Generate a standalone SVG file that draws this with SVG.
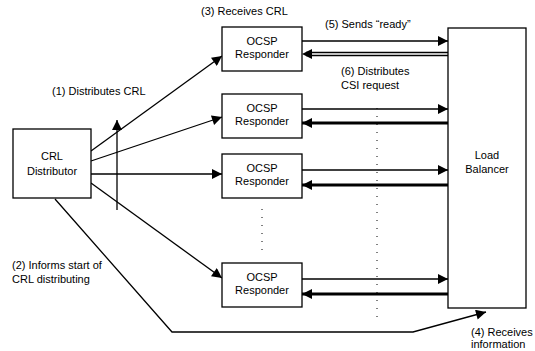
<svg xmlns="http://www.w3.org/2000/svg" width="535" height="351" viewBox="0 0 535 351">
  <style>
    .box { fill: #fff; stroke: #000; stroke-width: 1.3; }
    .t { font-family: "Liberation Sans", Arial, sans-serif; font-size: 11px; fill: #000; }
    .c { text-anchor: middle; }
    .ln { fill: none; stroke: #000; stroke-width: 1.3; }
    .thick { fill: none; stroke: #000; stroke-width: 3; }
    .dots { fill: none; stroke: #000; stroke-width: 1; stroke-dasharray: 1 7; }
  </style>
  <defs>
    <marker id="ah" viewBox="0 0 10 10" refX="10" refY="5" markerWidth="11" markerHeight="10" markerUnits="userSpaceOnUse" orient="auto">
      <path d="M0,0 L10,5 L0,10 z" fill="#000"/>
    </marker>
  </defs>

  <rect width="535" height="351" fill="#fff"/>

  <g id="connectors">
    <!-- CRL distribution -->
    <line class="ln" x1="91" y1="151" x2="222" y2="56" marker-end="url(#ah)"/>
    <line class="ln" x1="91" y1="161" x2="222" y2="117" marker-end="url(#ah)"/>
    <line class="ln" x1="91" y1="174" x2="222" y2="174" marker-end="url(#ah)"/>
    <line class="ln" x1="91" y1="183" x2="222" y2="278" marker-end="url(#ah)"/>
    <!-- crossing arrow -->
    <line class="ln" x1="117" y1="210" x2="117" y2="120" marker-end="url(#ah)"/>
    <!-- informs load balancer -->
    <polyline class="ln" points="55,199 172,332 413,332 486,312" marker-end="url(#ah)"/>
    <!-- ready / request pairs -->
    <line class="ln" x1="302" y1="41" x2="448" y2="41" marker-end="url(#ah)"/>
    <line class="ln" x1="448" y1="52.5" x2="306" y2="52.5"/>
    <line class="ln" x1="448" y1="55.5" x2="306" y2="55.5"/>
    <path d="M302,54 L312,49 L312,59 z" fill="#000"/>
    <line class="ln" x1="302" y1="109" x2="448" y2="109" marker-end="url(#ah)"/>
    <line class="thick" x1="448" y1="123" x2="302" y2="123" marker-end="url(#ah)"/>
    <line class="ln" x1="302" y1="170" x2="448" y2="170" marker-end="url(#ah)"/>
    <line class="thick" x1="448" y1="185" x2="302" y2="185" marker-end="url(#ah)"/>
    <line class="ln" x1="302" y1="279" x2="448" y2="279" marker-end="url(#ah)"/>
    <line class="thick" x1="448" y1="294" x2="302" y2="294" marker-end="url(#ah)"/>
    <!-- ellipsis dots -->
    <line class="dots" x1="377" y1="108" x2="377" y2="318"/>
    <line class="dots" x1="262" y1="209" x2="262" y2="254"/>
  </g>

  <g id="crl-distributor">
    <rect class="box" x="13" y="129" width="78" height="69"/>
    <text class="t c" x="52" y="160">CRL</text>
    <text class="t c" x="52" y="175">Distributor</text>
  </g>

  <g id="ocsp-1">
    <rect class="box" x="222" y="27" width="80" height="44"/>
    <text class="t c" x="262" y="45">OCSP</text>
    <text class="t c" x="262" y="58">Responder</text>
  </g>
  <g id="ocsp-2">
    <rect class="box" x="222" y="94" width="80" height="44"/>
    <text class="t c" x="262" y="112">OCSP</text>
    <text class="t c" x="262" y="125">Responder</text>
  </g>
  <g id="ocsp-3">
    <rect class="box" x="222" y="154" width="80" height="44"/>
    <text class="t c" x="262" y="172">OCSP</text>
    <text class="t c" x="262" y="185">Responder</text>
  </g>
  <g id="ocsp-4">
    <rect class="box" x="222" y="263" width="80" height="44"/>
    <text class="t c" x="262" y="281">OCSP</text>
    <text class="t c" x="262" y="294">Responder</text>
  </g>

  <g id="load-balancer">
    <rect class="box" x="448" y="28" width="78" height="280"/>
    <text class="t c" x="487" y="159">Load</text>
    <text class="t c" x="487" y="173">Balancer</text>
  </g>

  <g id="labels">
    <text class="t" x="201" y="15">(3) Receives CRL</text>
    <text class="t" x="325" y="28">(5) Sends “ready”</text>
    <text class="t" x="341" y="75">(6) Distributes</text>
    <text class="t" x="341" y="89">CSI request</text>
    <text class="t" x="52" y="95">(1) Distributes CRL</text>
    <text class="t" x="12" y="269">(2) Informs start of</text>
    <text class="t" x="12" y="283">CRL distributing</text>
    <text class="t" x="471" y="336">(4) Receives</text>
    <text class="t" x="471" y="348">information</text>
  </g>
</svg>
